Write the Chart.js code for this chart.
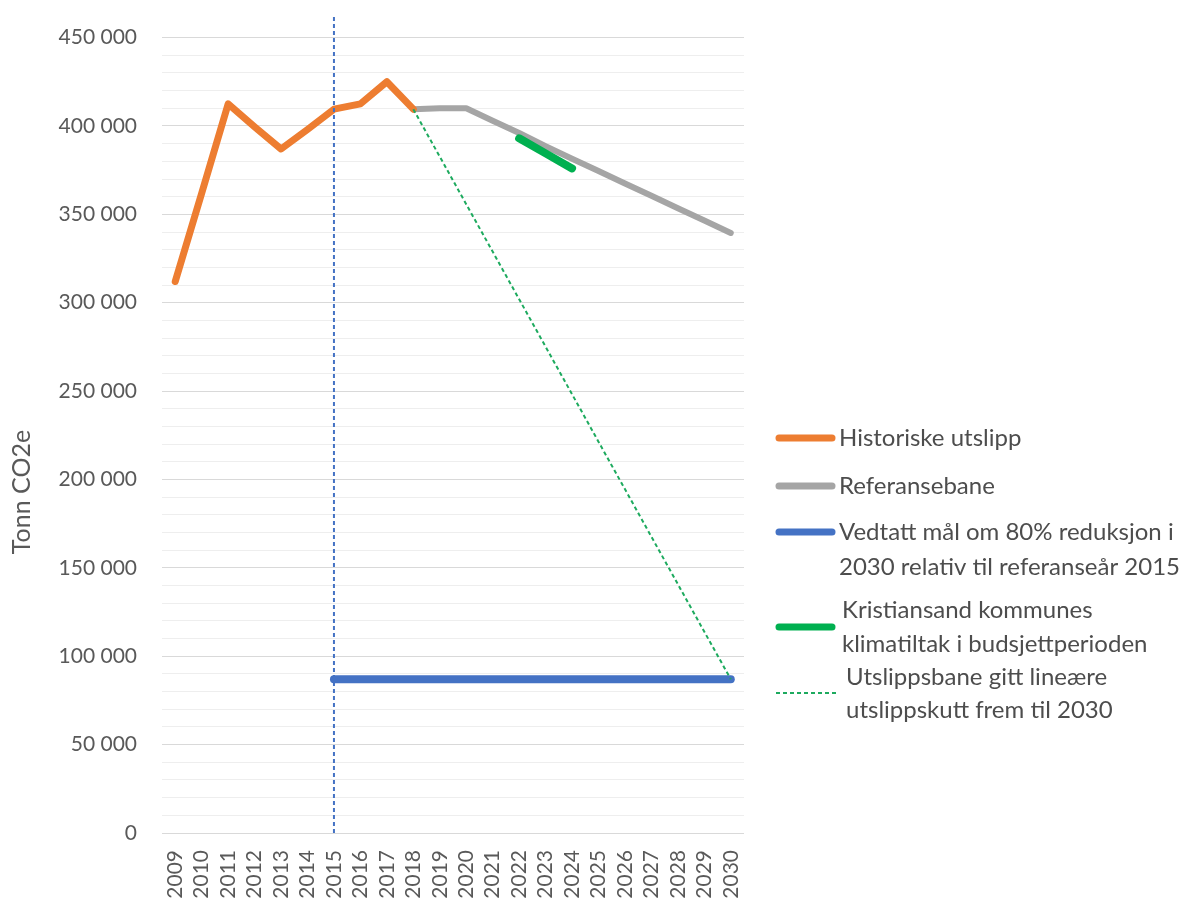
<!DOCTYPE html>
<html>
<head>
<meta charset="utf-8">
<script src="https://cdn.jsdelivr.net/npm/chart.js@4.4.0/dist/chart.umd.min.js"></script>
<style>
  body { margin: 0; background: #fff; }
  #wrap { width: 1191px; height: 902px; }
</style>
</head>
<body>
<div id="wrap"><canvas id="c" width="1191" height="902"></canvas></div>
<script>
// years on the x axis
const years = ['2009', '2010', '2011', '2012', '2013', '2014', '2015', '2016', '2017', '2018', '2019',
  '2020', '2021', '2022', '2023', '2024', '2025', '2026', '2027', '2028', '2029', '2030'];

// Tonn CO2e
const historiske = [312000, 362000, 412500, 399500, 387000, 398000, 409500, 412500, 425000, 409500,
  null, null, null, null, null, null, null, null, null, null, null, null];
const referansebane = [null, null, null, null, null, null, null, null, null, 409500, 410000,
  410000, 403000, 396000, 388500, 381500, 374500, 367500, 360500, 353500, 346500, 339500];
const maal2030 = [null, null, null, null, null, null, 87000, 87000, 87000, 87000, 87000,
  87000, 87000, 87000, 87000, 87000, 87000, 87000, 87000, 87000, 87000, 87000];
const klimatiltak = [null, null, null, null, null, null, null, null, null, null, null,
  null, null, 393000, 384500, 376000, null, null, null, null, null, null];
const utslippsbane = [null, null, null, null, null, null, null, null, null, 409500, null,
  null, null, null, null, null, null, null, null, null, null, 87000];
// referanseår marker
const refYear = '2015';
const refMarker = [0, 462000];

const yTicks = { min: 0, max: 450000, major: 50000, minor: 10000 };

const legendText = [
  ['Historiske utslipp'],
  ['Referansebane'],
  ['Vedtatt mål om 80% reduksjon i', '2030 relativ til referanseår 2015'],
  ['Kristiansand kommunes', 'klimatiltak i budsjettperioden'],
  ['Utslippsbane gitt lineære', 'utslippskutt frem til 2030']
];
const yTitle = 'Tonn CO2e';

const FONT = 'Lato, "Open Sans", sans-serif';
const TEXT = '#595959';

const fmt = v => String(v).replace(/\B(?=(\d{3})+(?!\d))/g, ' ');

// legend + axis title drawn by hand, Excel style
const extras = {
  id: 'extras',
  afterDraw(chart) {
    const ctx = chart.ctx;
    ctx.save();
    // y title
    ctx.fillStyle = TEXT;
    ctx.font = '25px ' + FONT;
    ctx.textAlign = 'center';
    ctx.textBaseline = 'middle';
    ctx.translate(22, 492);
    ctx.rotate(-Math.PI / 2);
    ctx.fillText(yTitle, 0, 0);
    ctx.restore();

    // legend
    const lineY = [438, 486, 532, 627, 693];
    const textY = [[438], [486], [532, 567], [610, 644], [677, 710]];
    const textX = [839, 839, 839, 842, 846];
    ctx.save();
    ctx.font = '24px ' + FONT;
    ctx.textBaseline = 'middle';
    ctx.textAlign = 'left';
    legendText.forEach((lines, i) => {
      const ds = chart.data.datasets[i];
      ctx.beginPath();
      ctx.strokeStyle = ds.borderColor;
      ctx.lineWidth = ds.legendWidth;
      ctx.lineCap = ds.borderDash ? 'butt' : 'round';
      ctx.setLineDash(ds.borderDash || []);
      ctx.moveTo(ds.borderDash ? 776 : 779, lineY[i]);
      ctx.lineTo(ds.borderDash ? 836 : 832, lineY[i]);
      ctx.stroke();
      ctx.setLineDash([]);
      ctx.fillStyle = '#4d4d4d';
      lines.forEach((t, j) => ctx.fillText(t, textX[i], textY[i][j]));
    });
    ctx.restore();
  }
};

new Chart(document.getElementById('c'), {
  type: 'line',
  data: {
    labels: years,
    datasets: [
      { label: legendText[0].join(' '), data: historiske, borderColor: '#ED7D31', borderWidth: 7, legendWidth: 7, order: 3 },
      { label: legendText[1].join(' '), data: referansebane, borderColor: '#A5A5A5', borderWidth: 6, legendWidth: 7, order: 4 },
      { label: legendText[2].join(' '), data: maal2030, borderColor: '#4472C4', borderWidth: 8, legendWidth: 7, order: 5 },
      { label: legendText[3].join(' '), data: klimatiltak, borderColor: '#00B050', borderWidth: 8, legendWidth: 7, order: 1 },
      { label: legendText[4].join(' '), data: utslippsbane, borderColor: '#1DAA5E', borderWidth: 2, legendWidth: 2,
        borderDash: [4, 3], spanGaps: true, borderCapStyle: 'butt', order: 2 },
      { label: 'ref', data: refMarker.map(y => ({ x: refYear, y })), borderColor: '#4472C4', borderWidth: 2,
        borderDash: [4, 3], borderCapStyle: 'butt', clip: false, order: 0 }
    ]
  },
  options: {
    responsive: false,
    animation: false,
    events: [],
    layout: { padding: { left: 0, right: 447, top: 35, bottom: 0 } },
    elements: {
      point: { radius: 0 },
      line: { tension: 0, borderCapStyle: 'round', borderJoinStyle: 'round' }
    },
    plugins: { legend: { display: false }, tooltip: { enabled: false } },
    scales: {
      x: {
        offset: true,
        grid: { display: false },
        border: { display: false },
        ticks: {
          autoSkip: false, minRotation: 90, maxRotation: 90, padding: 9,
          color: TEXT, font: { family: FONT, size: 21 }
        },
        afterFit: s => { s.height = 69; }
      },
      y: {
        min: yTicks.min, max: yTicks.max,
        border: { display: false },
        grid: {
          drawTicks: false,
          color: c => (c.tick && c.tick.value % yTicks.major === 0) ? '#d9d9d9' : '#eeeeee'
        },
        ticks: {
          stepSize: yTicks.minor, autoSkip: false, padding: 25,
          color: TEXT, font: { family: FONT, size: 21 },
          callback: v => v % yTicks.major === 0 ? fmt(v) : ''
        },
        afterFit: s => { s.width = 162; }
      }
    }
  },
  plugins: [extras]
});
</script>
</body>
</html>
